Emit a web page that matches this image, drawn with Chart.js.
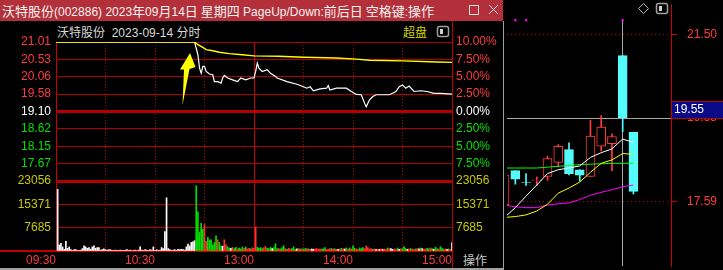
<!DOCTYPE html>
<html>
<head>
<meta charset="utf-8">
<script src="https://cdn.jsdelivr.net/npm/chart.js@4.4.1/dist/chart.umd.min.js"></script>
<style>
  html, body { margin: 0; padding: 0; background: #000; }
  body { width: 723px; height: 270px; position: relative; overflow: hidden;
         font-family: "Liberation Sans", Arial, "Noto Sans CJK SC", sans-serif; }
  .abs { position: absolute; }
  .cjk { font-family: "Noto Sans CJK SC", sans-serif; font-size: 13px; }
  #titlebar { left: 0; top: 0; width: 503px; height: 21px; background: #b3303a; color: #f2f2f2;
              font-size: 12px; line-height: 21px; white-space: pre; padding-left: 2px; box-sizing: border-box; }
  #subtitle { left: 57px; top: 24px; color: #d8d8d8; font-size: 12px; line-height: 15px; white-space: pre; }
  #subtitle .cjk { font-size: 12px; }
  #chaopan { left: 403px; top: 24px; color: #d2d200; font-size: 12px; line-height: 15px; font-family: "Noto Sans CJK SC", sans-serif; }
  #op { left: 463px; top: 252px; color: #c8c8c8; font-size: 12px; line-height: 16px; font-family: "Noto Sans CJK SC", sans-serif; }
  canvas { position: absolute; }
</style>
</head>
<body>
<div id="titlebar" class="abs"><span class="cjk">沃特股份</span>(002886) 2023<span class="cjk">年</span>09<span class="cjk">月</span>14<span class="cjk">日 星期四</span> PageUp/Down:<span class="cjk">前后日 空格键</span>:<span class="cjk">操作</span></div>
<div id="subtitle" class="abs"><span class="cjk">沃特股份</span>  2023-09-14 <span class="cjk">分时</span></div>
<div id="chaopan" class="abs">超盘</div>
<div id="op" class="abs">操作</div>

<canvas id="price" width="503" height="152" style="left:0;top:30px"></canvas>
<canvas id="volume" width="503" height="100" style="left:0;top:170px"></canvas>
<canvas id="kline" width="220" height="270" style="left:503px;top:0"></canvas>

<div class="abs" style="left:452px;top:21px;width:1px;height:249px;background:#c00000"></div>
<div class="abs" style="left:0;top:250px;width:56px;height:2px;background:#c00000"></div>
<div class="abs" style="left:503px;top:21px;width:1px;height:249px;background:#a0a0a0"></div>
<div class="abs" style="left:0;top:268px;width:504px;height:2px;background:#a0a0a0"></div>

<svg class="abs" style="left:0;top:0" width="723" height="270">
  <!-- window buttons -->
  <rect x="469.5" y="5.5" width="9" height="9" fill="none" stroke="#e0e0e0" stroke-width="1"/>
  <path d="M489 5 L498 14 M498 5 L489 14" stroke="#e0e0e0" stroke-width="1"/>
  <!-- toggle icons -->
  <rect x="437.5" y="26.5" width="11" height="10" rx="2" fill="none" stroke="#a0a0a0" stroke-width="1.5"/>
  <rect x="440" y="29" width="3" height="5" fill="#d0d0d0"/>
  <rect x="656.5" y="3.5" width="11" height="10" rx="2" fill="none" stroke="#a0a0a0" stroke-width="1.5"/>
  <rect x="659" y="6" width="3" height="5" fill="#d0d0d0"/>
  <path d="M643.5 3.5 L648.5 8.5 L643.5 13.5 L638.5 8.5 Z" fill="none" stroke="#b0b0b0" stroke-width="1"/>
  <!-- yellow arrow -->
  <polygon points="190,53 195.5,67 189.5,69 182.5,105 184,69.5 180,69.5" fill="#ffff00"/>
</svg>

<script>
// ---- intraday (分时) ----
const prevClose = 19.10;
const priceTickPct = [10, 7.5, 5, 2.5, 0, -2.5, -5, -7.5];
const priceTickLabels = ['21.01', '20.53', '20.06', '19.58', '19.10', '18.62', '18.15', '17.67'];
const pctTickLabels = ['10.00%', '7.50%', '5.00%', '2.50%', '0.00%', '2.50%', '5.00%', '7.50%'];
const volTickLabels = ['23056', '15371', '7685'];
const timeLabels = ['09:30', '10:30', '13:00', '14:00', '15:00'];

// minute index (0 = 09:30, 120 = 11:30/13:00, 240 = 15:00) and price
const priceMinutes = [0, 84, 86, 87, 88, 89, 90, 91, 93, 95, 96, 98, 100, 101, 102, 104, 107, 110, 112, 115,
  118, 120, 121, 122, 123, 125, 128, 130, 133, 134, 140, 146, 150, 152, 154, 156, 160, 164, 165, 166,
  170, 176, 179, 182, 185, 187, 188, 190, 192, 194, 202, 204, 206, 208, 210, 212, 214, 217, 221, 225,
  229, 233, 240];
const priceValues = [21.01, 21.01, 20.66, 20.29, 20.15, 20.34, 20.34, 20.20, 20.13, 20.11, 19.92, 19.92, 19.88, 20.02, 20.09, 20.02, 19.97, 19.92, 20.02, 19.97,
  20.02, 20.02, 20.20, 20.43, 20.29, 20.20, 20.25, 20.15, 20.06, 20.02, 19.92, 19.85, 19.78, 19.74, 19.78, 19.67, 19.72, 19.74, 19.81, 19.69,
  19.74, 19.74, 19.65, 19.57, 19.56, 19.33, 19.23, 19.42, 19.51, 19.56, 19.56, 19.60, 19.65, 19.78, 19.83, 19.74, 19.80, 19.65, 19.67, 19.65,
  19.60, 19.60, 19.58];
const avgMinutes = [0, 84, 86, 89, 91, 95, 99, 105, 113, 120, 135, 150, 170, 182, 190, 210, 231, 240];
const avgValues = [21.01, 21.01, 20.935, 20.86, 20.80, 20.77, 20.73, 20.69, 20.66, 20.63, 20.62, 20.59, 20.57, 20.54, 20.51, 20.49, 20.46, 20.45];

// per-minute volume, minutes 1..240
const volumes = [
  20300, 2000, 2500, 1350, 560, 3160, 900, 1350, 450, 200,
  450, 450, 150, 200, 300, 790, 1700, 1350, 900, 1130,
  600, 1350, 1700, 900, 1130, 1130, 300, 450, 680, 450,
  300, 450, 450, 200, 150, 300, 200, 150, 300, 200,
  150, 300, 450, 200, 300, 150, 200, 300, 150, 300,
  1350, 300, 200, 450, 300, 200, 450, 300, 1350, 200,
  450, 200, 300, 1130, 790, 6430, 17500, 790, 450, 200,
  300, 450, 200, 560, 450, 560, 450, 300, 1350, 2260,
  1700, 2820, 3050, 3400, 21500, 12900, 6200, 9100, 7100, 8700,
  3200, 4500, 3700, 3700, 2000, 2800, 5000, 3700, 2800, 1600,
  1600, 3700, 2100, 1400, 1000, 900, 1200, 800, 1200, 700,
  1000, 700, 1300, 900, 1300, 700, 900, 700, 1100, 900,
  7900, 1240, 900, 1130, 790, 1130, 1460, 900, 790, 1240,
  790, 1130, 2360, 790, 790, 680, 1130, 1700, 790, 560,
  900, 680, 790, 1350, 560, 680, 790, 680, 680, 680,
  790, 790, 680, 560, 680, 560, 680, 790, 560, 680,
  560, 790, 1130, 560, 560, 790, 790, 680, 680, 560,
  560, 680, 900, 680, 680, 1010, 560, 1010, 680, 1690,
  900, 680, 560, 1010, 790, 1130, 790, 1690, 1130, 680,
  790, 560, 680, 560, 560, 560, 680, 560, 680, 560,
  1010, 790, 790, 560, 680, 560, 1010, 560, 680, 790,
  1460, 790, 560, 680, 790, 680, 560, 680, 790, 680,
  1010, 790, 560, 680, 900, 680, 1010, 790, 560, 1240,
  680, 680, 1460, 900, 560, 680, 560, 680, 560, 2800
];
// w = unchanged, r = up tick, g = down tick
const volumeDir = [
  'wwwwwwwwww', 'wwwwwwwwww', 'wwwwwwwwww', 'wwwwwwwwww', 'wwwwwwwwww', 'wwwwwwwwww', 'wwwwwwwwww', 'wwwwwwwwww',
  'wwwwgggggr', 'rggggggrgg', 'wrrggwrggr', 'gggrgrrgrr', 'rggggrrggg', 'wgggrgggrg', 'rrgggwrgrg', 'grgrwwrrrr',
  'gggrrrgrgr', 'wrgrwgrgrg', 'grrgggrrrr', 'rgrwrwrwrr', 'grwwrrgwrg', 'ggwrgrrgrw', 'gwrrggrgwg', 'grgggrwgrw'
].join('');

// ---- daily candles (right panel) ----
const kOpen  = [17.51, 18.31, 18.04, 18.08, 18.17, 18.50, 18.80, 18.33, 18.17, 18.88, 18.94, 21.01, 19.21];
const kHigh  = [18.21, 18.31, 18.24, 18.16, 18.65, 18.92, 18.96, 18.33, 19.49, 19.60, 19.17, 21.01, 19.21];
const kLow   = [17.51, 17.99, 17.96, 17.96, 18.08, 18.40, 18.21, 18.06, 18.17, 18.77, 18.31, 19.22, 17.76];
const kClose = [18.21, 18.11, 18.03, 18.09, 18.59, 18.88, 18.24, 18.20, 19.12, 19.33, 19.11, 19.55, 17.82];
const maWhite   = [17.21, 17.44, 17.71, 17.97, 18.24, 18.33, 18.37, 18.42, 18.62, 18.73, 18.82, 19.05, 18.97];
const maYellow  = [17.21, 17.23, 17.27, 17.36, 17.52, 17.78, 17.90, 18.04, 18.27, 18.48, 18.56, 18.71, 18.69];
const maMagenta = [17.50, 17.46, 17.44, 17.44, 17.50, 17.53, 17.55, 17.63, 17.73, 17.80, 17.86, 17.93, 17.97];
const maGreen   = [18.37, 18.37, 18.37, 18.37, 18.39, 18.41, 18.43, 18.45, 18.46, 18.47, 18.48, 18.48, 18.48];
const eventDays = [1, 2, 11];
const eventLevel = 21.84;
const crossDay = 11;
const lastPrice = 19.55;
const kAxisTicks = [21.50, 19.55, 17.59];
const kMin = 16.07, kMax = 22.22;

// ---- styling ----
Chart.defaults.font.family = "'Liberation Sans', Arial, sans-serif";
Chart.defaults.font.size = 12;
Chart.defaults.animation = false;

const upRed = '#ff3c3c', downGreen = '#00e000', olive = '#c8c800';
const gridRed = '#b40000', solidRed = '#cc0000';
const cyan = '#54fcfc';
const timeTicks = [0, 30, 60, 90, 120, 150, 180, 210, 240];
const priceTicks = priceTickPct.map(p => prevClose * (1 + p / 100));
const volMax = parseFloat(volTickLabels[0]);
const volTicks = [volMax, volMax * 2 / 3, volMax / 3, 0];

function pctColor(v) {
  if (Math.abs(v - prevClose) < 1e-6) return '#ffffff';
  return v > prevClose ? upRed : downGreen;
}
function tickVal(c) { return c.tick ? c.tick.value : 0; }
const timeGrid = {
  drawTicks: false,
  color: c => (tickVal(c) % 120 === 0 ? solidRed : gridRed),
  lineWidth: 1
};
const timeDash = c => (tickVal(c) % 120 === 0 ? [] : [1, 2]);
const commonOpts = {
  responsive: false,
  events: [],
  plugins: { legend: { display: false }, tooltip: { enabled: false } }
};

// price + average line
new Chart(document.getElementById('price'), {
  type: 'line',
  data: {
    datasets: [
      { data: avgMinutes.map((m, i) => ({ x: m, y: avgValues[i] })), borderColor: '#ffff00', borderWidth: 1.4, pointRadius: 0 },
      { data: priceMinutes.map((m, i) => ({ x: m, y: priceValues[i] })), borderColor: '#ffffff', borderWidth: 1.2, pointRadius: 0 }
    ]
  },
  options: {
    ...commonOpts,
    layout: { padding: { top: 12, bottom: 1, left: 0, right: 0 } },
    scales: {
      x: {
        type: 'linear', min: 0, max: 240, offset: false,
        afterBuildTicks: s => { s.ticks = timeTicks.map(v => ({ value: v })); },
        afterFit: s => { s.height = 0; s.paddingLeft = 0; s.paddingRight = 0; },
        ticks: { display: false },
        grid: timeGrid,
        border: { display: false, dash: timeDash }
      },
      y: {
        position: 'left', min: prevClose * 0.9, max: prevClose * 1.1,
        afterBuildTicks: s => { s.ticks = priceTicks.map(v => ({ value: v })); },
        afterFit: s => { s.width = 56; s.paddingTop = 0; s.paddingBottom = 0; },
        ticks: { padding: 5, color: c => pctColor(tickVal(c)), callback: (v, i) => priceTickLabels[i] },
        grid: { drawTicks: false, color: gridRed, lineWidth: c => (Math.abs(tickVal(c) - prevClose) < 1e-6 ? 3 : 1) },
        border: { display: false }
      },
      yr: {
        position: 'right', min: prevClose * 0.9, max: prevClose * 1.1,
        afterBuildTicks: s => { s.ticks = priceTicks.map(v => ({ value: v })); },
        afterFit: s => { s.width = 51; s.paddingTop = 0; s.paddingBottom = 0; },
        ticks: { padding: 4, color: c => pctColor(tickVal(c)), callback: (v, i) => pctTickLabels[i] },
        grid: { drawOnChartArea: false, drawTicks: false },
        border: { display: false }
      }
    }
  }
});

// volume
const dirColor = { w: '#ffffff', r: '#ff3232', g: '#00e000' };
function volLabel(v) {
  const i = Math.round(v / (volMax / 3));
  return i === 0 ? '' : volTickLabels[3 - i];
}
new Chart(document.getElementById('volume'), {
  type: 'bar',
  data: {
    datasets: [{
      data: volumes.map((v, i) => ({ x: i + 1, y: v })),
      backgroundColor: volumes.map((v, i) => dirColor[volumeDir[i]]),
      barThickness: 1
    }]
  },
  options: {
    ...commonOpts,
    layout: { padding: { top: 11, bottom: 0, left: 0, right: 0 } },
    scales: {
      x: {
        type: 'linear', min: 0, max: 240, offset: false,
        afterBuildTicks: s => { s.ticks = timeTicks.map(v => ({ value: v })); },
        afterFit: s => { s.height = 19; s.paddingLeft = 0; s.paddingRight = 0; },
        ticks: { autoSkip: false, maxRotation: 0, align: 'end', padding: 2, color: upRed,
                 callback: v => (v % 60 === 0 ? timeLabels[v / 60] : '') },
        grid: { ...timeGrid, offset: false },
        border: { display: true, color: solidRed, width: 2, dash: timeDash }
      },
      y: {
        position: 'left', min: 0, max: volMax,
        afterBuildTicks: s => { s.ticks = volTicks.map(v => ({ value: v })); },
        afterFit: s => { s.width = 56; s.paddingTop = 0; s.paddingBottom = 0; },
        ticks: { padding: 5, color: olive, callback: v => volLabel(v) },
        grid: { drawTicks: false, color: c => (tickVal(c) === 0 ? 'rgba(0,0,0,0)' : gridRed),
                lineWidth: c => (tickVal(c) === volMax ? 3 : 1) },
        border: { display: false }
      },
      yr: {
        position: 'right', min: 0, max: volMax,
        afterBuildTicks: s => { s.ticks = volTicks.map(v => ({ value: v })); },
        afterFit: s => { s.width = 51; s.paddingTop = 0; s.paddingBottom = 0; },
        ticks: { padding: 4, color: olive, callback: v => volLabel(v) },
        grid: { drawOnChartArea: false, drawTicks: false },
        border: { display: false }
      }
    }
  }
});

// daily k-line
const kDays = kOpen.map((o, i) => i);
const kUp = kOpen.map((o, i) => kClose[i] >= o);
const kLine = kUp.map(u => (u ? upRed : cyan));
const kFill = kUp.map(u => (u ? '#000000' : cyan));
const maLine = (arr, color) => ({
  type: 'line', data: kDays.map((d, i) => ({ x: d, y: arr[i] })),
  borderColor: color, borderWidth: 1, pointRadius: 0, order: 1
});

const crosshair = {
  id: 'crosshair',
  beforeDatasetsDraw(chart) {
    const { ctx, chartArea: a, scales: { x, y } } = chart;
    const px = Math.round(x.getPixelForValue(crossDay)) - 0.5;
    const py = Math.round(y.getPixelForValue(lastPrice)) + 0.5;
    ctx.save();
    ctx.strokeStyle = '#a8a8a8';
    ctx.lineWidth = 1;
    ctx.beginPath();
    ctx.moveTo(a.left, py); ctx.lineTo(a.right, py);
    ctx.moveTo(px, y.getPixelForValue(eventLevel)); ctx.lineTo(px, a.bottom);
    ctx.stroke();
    ctx.restore();
  },
  afterDraw(chart) {
    const { ctx, chartArea: a, scales: { y } } = chart;
    const py = Math.round(y.getPixelForValue(lastPrice));
    ctx.save();
    ctx.fillStyle = '#0a0a86';
    ctx.fillRect(a.right + 1, py - 16, 52, 16);
    ctx.strokeStyle = '#c00000';
    ctx.lineWidth = 1;
    ctx.strokeRect(a.right + 0.5, py - 16.5, 53, 17);
    ctx.fillStyle = '#ffffff';
    ctx.font = "12px 'Liberation Sans', Arial, sans-serif";
    ctx.textBaseline = 'middle';
    ctx.fillText(lastPrice.toFixed(2), a.right + 3, py - 8);
    ctx.restore();
  }
};

new Chart(document.getElementById('kline'), {
  type: 'bar',
  data: {
    datasets: [
      { type: 'scatter', data: eventDays.map(d => ({ x: d, y: eventLevel })), pointStyle: 'rect',
        pointRadius: 1.6, backgroundColor: '#ff00ff', borderWidth: 0, order: 0 },
      maLine(maWhite, '#ffffff'),
      maLine(maYellow, '#ffff00'),
      maLine(maMagenta, '#ff00ff'),
      maLine(maGreen, '#00ff00'),
      { type: 'bar', data: kDays.map((d, i) => ({ x: d, y: [Math.min(kOpen[i], kClose[i]), Math.max(kOpen[i], kClose[i])] })),
        barThickness: 9, grouped: false, borderWidth: 1, borderSkipped: false,
        borderColor: kLine, backgroundColor: kFill, order: 2 },
      { type: 'bar', data: kDays.map((d, i) => ({ x: d, y: [kLow[i], kHigh[i]] })),
        barThickness: 1, grouped: false, borderWidth: 0, backgroundColor: kLine, order: 3 }
    ]
  },
  options: {
    ...commonOpts,
    layout: { padding: 0 },
    scales: {
      x: { type: 'linear', display: false, min: 0.227, max: 15.5, offset: false },
      y: {
        position: 'right', min: kMin, max: kMax,
        afterBuildTicks: s => { s.ticks = kAxisTicks.map(v => ({ value: v })); },
        afterFit: s => { s.width = 52; s.paddingTop = 0; s.paddingBottom = 0; },
        ticks: { padding: 10, color: upRed, callback: v => v.toFixed(2) },
        grid: { drawTicks: true, tickLength: 6, tickColor: solidRed,
                color: c => (tickVal(c) === lastPrice ? 'rgba(0,0,0,0)' : gridRed) },
        border: { display: true, color: solidRed, width: 1, dash: [1, 3] }
      }
    }
  },
  plugins: [crosshair]
});
</script>
</body>
</html>
